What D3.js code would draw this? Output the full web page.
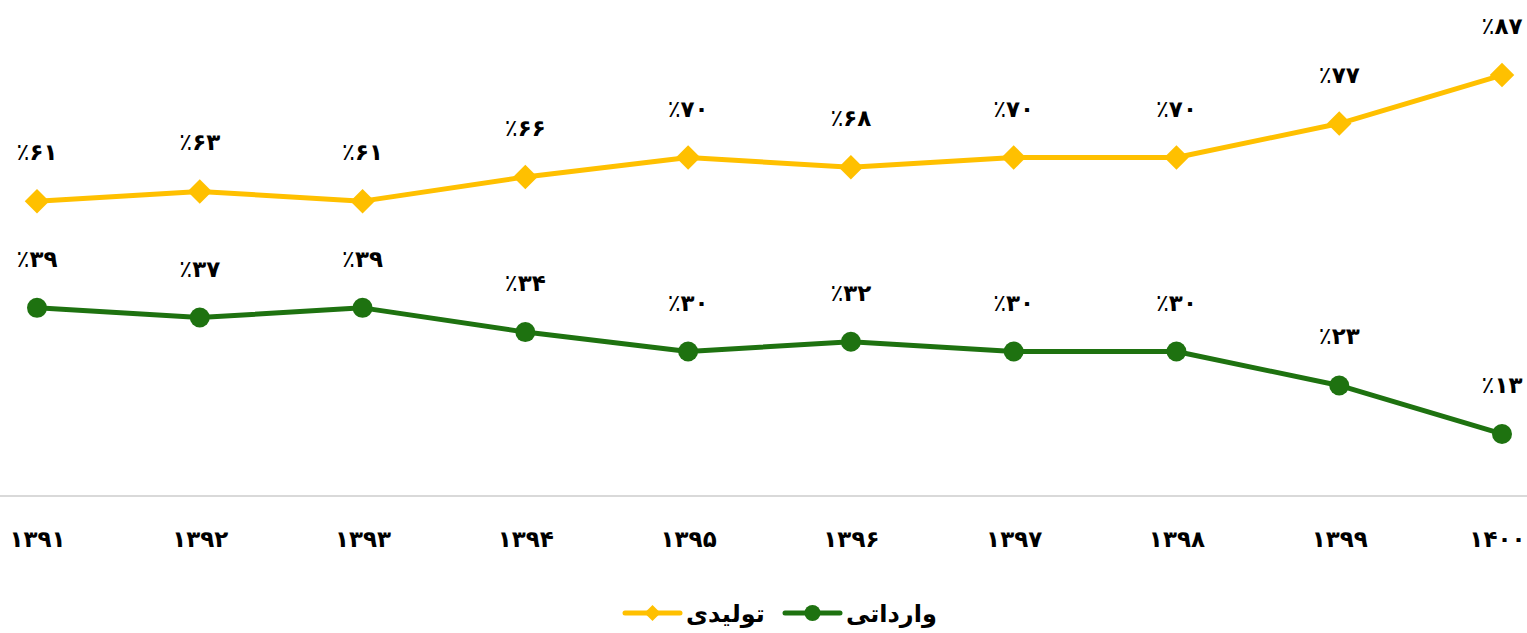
<!DOCTYPE html>
<html><head><meta charset="utf-8">
<script src="https://cdn.jsdelivr.net/npm/d3@7"></script>
<style>body{margin:0;background:#fff}svg{display:block}text{font-family:"DejaVu Sans",sans-serif;font-weight:bold}</style>
</head><body>
<svg id="c" width="1527" height="633"></svg>
<script>
const years = ["۱۳۹۱","۱۳۹۲","۱۳۹۳","۱۳۹۴","۱۳۹۵","۱۳۹۶","۱۳۹۷","۱۳۹۸","۱۳۹۹","۱۴۰۰"];
const produced = [61,63,61,66,70,68,70,70,77,87];
const imported = [39,37,39,34,30,32,30,30,23,13];
const seriesNames = ["تولیدی","وارداتی"];
const colors = ["#FFC000","#1E7210"];

const fa = n => String(n).replace(/\d/g, d => "۰۱۲۳۴۵۶۷۸۹"[d]);
const svg = d3.select("#c");
const x = d3.scalePoint().domain(years).range([37,1502]);
const y = d3.scaleLinear().domain([0,100]).range([497,12]);

svg.append("line").attr("x1",0).attr("x2",1527).attr("y1",496).attr("y2",496)
  .attr("stroke","#d9d9d9").attr("stroke-width",2);

const xAxis = d3.axisBottom(x).tickSize(0).tickPadding(0);
const gx = svg.append("g").attr("transform","translate(0,530)").call(xAxis);
gx.select(".domain").remove();
gx.selectAll("text").attr("font-size",23).attr("font-family","DejaVu Sans").attr("font-weight","bold")
  .attr("fill","#000").attr("dy","0.75em").style("direction","ltr").style("unicode-bidi","bidi-override")
  .attr("text-anchor",(d,i)=> i===years.length-1 ? "end" : "middle")
  .attr("x",(d,i)=> i===years.length-1 ? 1525-1502 : 0);

const line = d3.line().x((d,i)=>x(years[i])).y(d=>y(d));
const data = [produced, imported];
data.forEach((vals,si)=>{
  svg.append("path").datum(vals).attr("d",line).attr("fill","none")
    .attr("stroke",colors[si]).attr("stroke-width",5).attr("stroke-linejoin","round");
  const g = svg.append("g");
  vals.forEach((v,i)=>{
    const cx = x(years[i]), cy = y(v);
    if(si===0){
      g.append("path").attr("d",d3.symbol(d3.symbolSquare,300)()).attr("transform",`translate(${cx},${cy}) rotate(45)`).attr("fill",colors[0]);
    } else {
      g.append("circle").attr("cx",cx).attr("cy",cy).attr("r",10).attr("fill",colors[1]);
    }
    const t = svg.append("text").attr("x",cx).attr("y",cy-41).attr("text-anchor","middle")
      .attr("font-size",23).attr("fill","#000").style("direction","ltr").style("unicode-bidi","bidi-override");
    t.append("tspan").attr("font-weight","normal").attr("font-size",24).text("٪");
    t.append("tspan").text(fa(v));
  });
});

// legend
const lg = svg.append("g");
function legendItem(x0, color, sym, label){
  lg.append("line").attr("x1",x0).attr("x2",x0+55).attr("y1",613).attr("y2",613).attr("stroke",color).attr("stroke-width",5).attr("stroke-linecap","round");
  if(sym==="d") lg.append("path").attr("d",d3.symbol(d3.symbolSquare,130)()).attr("transform",`translate(${x0+27.5},613) rotate(45)`).attr("fill",color);
  else lg.append("circle").attr("cx",x0+27.5).attr("cy",613).attr("r",8).attr("fill",color);
  lg.append("text").attr("x",x0+61).attr("y",622).attr("font-size",24).attr("fill","#000").attr("text-anchor","start").style("direction","ltr").text(label);
}
legendItem(625, colors[0], "d", seriesNames[0]);
legendItem(785, colors[1], "c", seriesNames[1]);
</script>
</body></html>
